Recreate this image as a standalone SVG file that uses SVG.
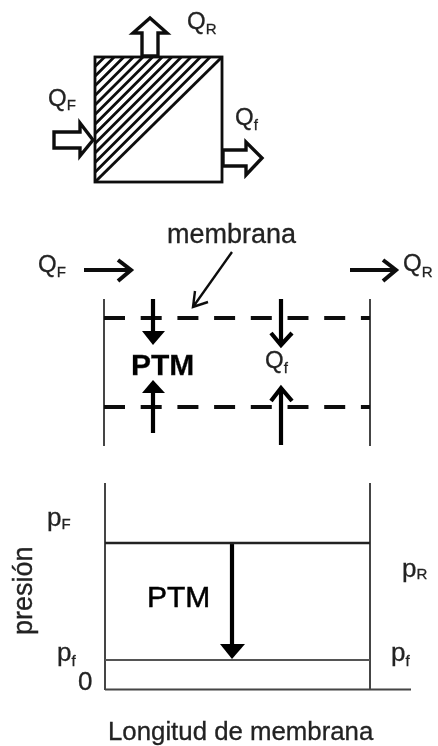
<svg xmlns="http://www.w3.org/2000/svg" width="438" height="746" viewBox="0 0 438 746">
<style>
text{font-family:"Liberation Sans",Arial,sans-serif;fill:#222;stroke:#222;stroke-width:.3}
.q{font-size:24px}.s{font-size:15px}.p{font-size:26px}
.b{font-size:30px;font-weight:bold;fill:#000}
.l{fill:none;stroke:#111;stroke-width:4}
.h{fill:none;stroke:#111;stroke-width:2.8}
.t{fill:none;stroke:#444;stroke-width:2}
.d{fill:none;stroke:#111;stroke-width:4;stroke-dasharray:21 15.7}
.bl{fill:none;stroke:#000;stroke-width:4.200}
.o{fill:#fff;stroke:#111;stroke-width:3.400;stroke-linejoin:miter}
</style>
<defs>
<filter id="b" x="-5%" y="-5%" width="110%" height="110%"><feGaussianBlur stdDeviation="0.6"/></filter>
<clipPath id="tri"><polygon points="95,57 222,57 95,182"/></clipPath>
</defs>
<g filter="url(#b)">
<g id="module">
<rect x="95" y="57" width="127" height="125" fill="#fff" stroke="#111" stroke-width="2.800"/>
<g clip-path="url(#tri)">
<path class="h" d="M95,66.600L104.600,57M95,76.200L114.200,57M95,85.800L123.800,57M95,95.400L133.400,57M95,105L143,57M95,114.600L152.600,57M95,124.200L162.200,57M95,133.800L171.800,57M95,143.400L181.400,57M95,153L191,57M95,162.600L200.600,57M95,172.200L210.200,57"/>
</g>
<line x1="95" y1="182" x2="222" y2="57" stroke="#111" stroke-width="3"/>
</g>
<g id="module-arrows">
<polygon class="o" points="142,56 142,33 133,33 150,18 167,33 158,33 158,56"/>
<polygon class="o" points="54,132 80,132 80,123 93,140 80,156 80,148 54,148"/>
<polygon class="o" points="223,150 246,150 246,142 262,158 246,175 246,166 223,166"/>
</g>
<g id="module-labels">
<text class="q" x="187" y="29">Q<tspan class="s" dy="5">R</tspan></text>
<text class="q" x="48" y="106">Q<tspan class="s" dy="4">F</tspan></text>
<text class="q" x="235" y="125">Q<tspan class="s" dy="5">f</tspan></text>
</g>
<g id="channel">
<path class="t" d="M104,299V446M370,299V446"/>
<path class="d" d="M104,318H370M104,407H370"/>
</g>
<g id="connectors">
<path class="l" d="M84,270H131M118,260L131,270L118,281"/>
<path class="l" d="M350,270H396M383,260L396,270L383,281"/>
<path d="M232,252L193,307M195,291L193,307L208,302" fill="none" stroke="#111" stroke-width="2.400"/>
<path class="bl" d="M153,299V335"/><polygon points="142,331 165,331 153,345"/>
<path class="bl" d="M153,433V390"/><polygon points="142,393 165,393 153,380"/>
<path class="bl" d="M281,299V344M271,333L281,345L292,333"/>
<path class="bl" d="M281,445V389M271,401L281,388L292,401"/>
<path class="bl" d="M232,543V648"/><polygon points="220,644 245,644 232,659"/>
</g>
<g id="channel-labels">
<text x="167" y="243" style="font-size:27px">membrana</text>
<text class="q" x="38" y="272">Q<tspan class="s" dy="5">F</tspan></text>
<text class="q" x="403" y="271">Q<tspan class="s" dy="6">R</tspan></text>
<text class="b" x="131" y="375">PTM</text>
<text class="q" x="265" y="368">Q<tspan class="s" dy="5">f</tspan></text>
</g>
<g id="chart">
<path class="t" d="M105,483V690M370,483V690"/>
<line x1="105" y1="543" x2="370" y2="543" stroke="#222" stroke-width="2.600"/>
<line x1="105" y1="660" x2="370" y2="660" stroke="#555" stroke-width="2"/>
<line x1="105" y1="689.500" x2="411" y2="689.500" stroke="#444" stroke-width="2"/>
</g>
<g id="chart-labels">
<text class="p" x="47" y="526">p<tspan class="s" dy="3">F</tspan></text>
<text class="p" x="402" y="577">p<tspan class="s" dy="2">R</tspan></text>
<text class="p" x="57" y="661">p<tspan class="s" dy="5">f</tspan></text>
<text class="p" x="391" y="661">p<tspan class="s" dy="5">f</tspan></text>
<text class="p" x="78" y="690">0</text>
<text x="147" y="607" style="font-size:30px;fill:#000;stroke:#000;stroke-width:.5">PTM</text>
<text transform="translate(32,635) rotate(-90)" style="font-size:27px">presión</text>
<text x="108" y="740" style="font-size:25.800px">Longitud de membrana</text>
</g>
</g>
</svg>
